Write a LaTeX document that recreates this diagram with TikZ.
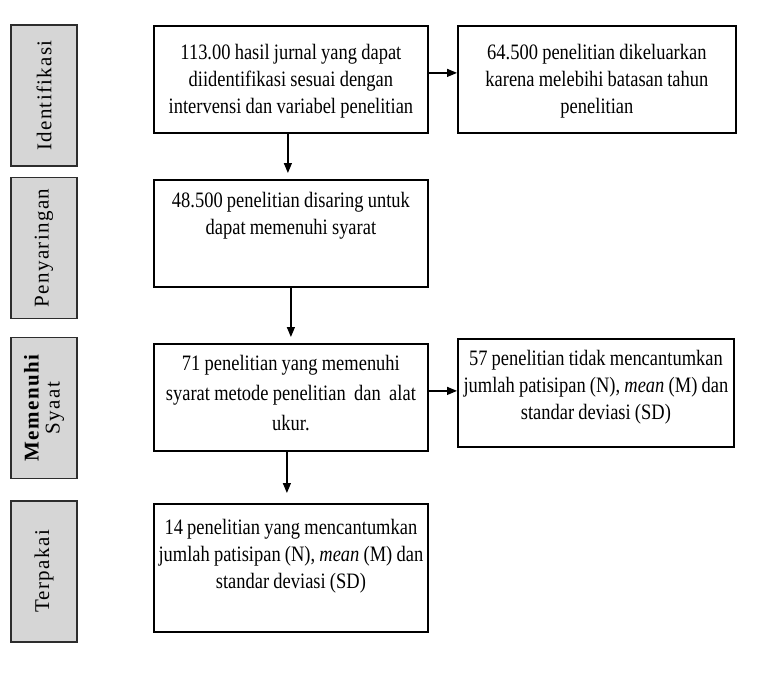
\documentclass[tikz,border=0pt]{standalone}
\usepackage{fontspec}
\setmainfont[FakeStretch=0.84]{Liberation Serif}
\newfontfamily\stagefont[LetterSpace=6.5]{Liberation Serif}
\usetikzlibrary{arrows.meta,positioning}
\definecolor{StageGray}{RGB}{214,214,214}
\definecolor{EdgeGray}{RGB}{45,45,45}

\begin{document}
\begin{tikzpicture}[x=1pt,y=-1pt,>={Triangle[length=10pt,width=8pt]},
    stage/.style={draw=EdgeGray,line width=1.6pt,fill=StageGray,rotate=90,
      minimum width=141pt,minimum height=66pt,inner sep=0pt,align=center,
      font=\stagefont\fontsize{21}{21}\selectfont},
    box/.style={draw,line width=1.8pt,anchor=north west,text width=272pt,
      inner xsep=1pt,inner ysep=0pt,font=\fontsize{22}{27}\selectfont,
      execute at begin node={\centering\spaceskip=4.2pt plus 1pt minus 1pt\relax}},
    arr/.style={->,line width=1.3pt}]
        \useasboundingbox (0,0) rectangle (768,672);
        % tahap di kiri
        \node[stage] (tIdent) at (44,95.5) {Identifikasi};
        \node[stage] (tSaring) at (44,248) {Penyaringan};
        \node[stage] (tSyarat) at (44,408) {{\bfseries Memenuhi}\\Syaat};
        \node[stage] (tPakai) at (44,571.5) {Terpakai};
        % kotak alur
        \node[box,text height=34pt,text depth=73pt] (hasil) at (153,25)
          {113.00 hasil jurnal yang dapat\\diidentifikasi sesuai dengan\\intervensi dan variabel penelitian};
        \node[box,text height=28pt,text depth=79pt] (saring) at (153,179)
          {48.500 penelitian disaring untuk\\dapat memenuhi syarat};
        \node[box,font=\fontsize{22}{30}\selectfont,text height=27pt,text depth=80pt] (syarat) at (153,343)
          {71 penelitian yang memenuhi\\syarat metode penelitian~~dan~~alat\\ukur.};
        \node[box,text height=31pt,text depth=97pt] (pakai) at (153,503)
          {14 penelitian yang mencantumkan\\jumlah patisipan (N), \textit{mean} (M) dan\\standar deviasi (SD)};
        \node[box,text width=276pt,text height=34pt,text depth=73pt] (keluar) at (457,25)
          {64.500 penelitian dikeluarkan\\karena melebihi batasan tahun\\penelitian};
        \node[box,text width=274pt,text height=27pt,text depth=81pt] (tolak) at (457,338)
          {57 penelitian tidak mencantumkan\\jumlah patisipan (N), \textit{mean} (M) dan\\standar deviasi (SD)};
        % panah
        \draw[arr,shorten >=6pt] ([xshift=-3pt]hasil.south) -- ([xshift=-3pt]saring.north);
        \draw[arr,shorten >=6pt] (saring.south) -- (syarat.north);
        \draw[arr,shorten >=10pt] ([xshift=-4pt]syarat.south) -- ([xshift=-4pt]pakai.north);
        \coordinate (kA) at ([yshift=6.5pt]hasil.east);
        \coordinate (kB) at ([yshift=6.5pt]syarat.east);
        \draw[arr] (kA) -- (kA -| keluar.west);
        \draw[arr] (kB) -- (kB -| tolak.west);
      \end{tikzpicture}
\end{document}
